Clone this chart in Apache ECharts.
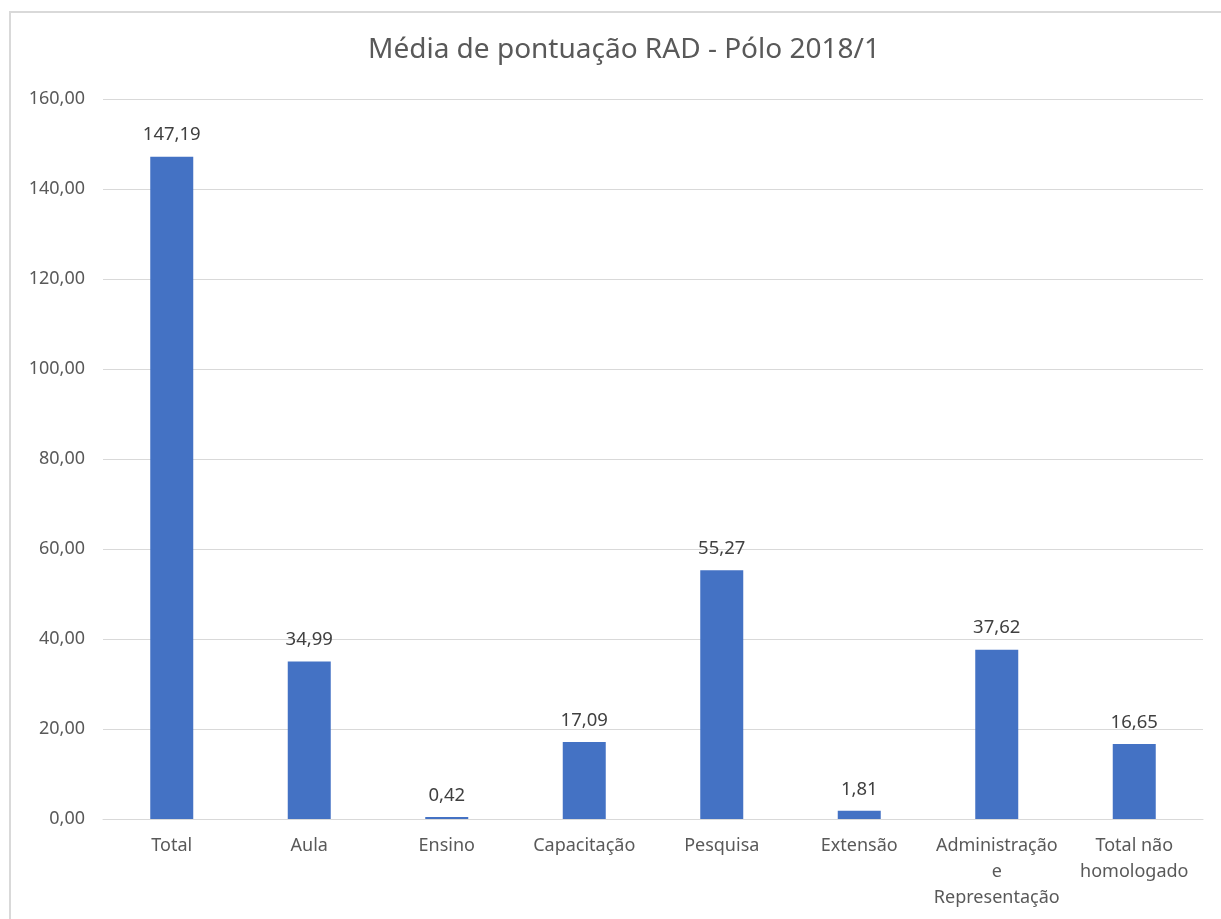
<!DOCTYPE html>
<html>
<head>
<meta charset="utf-8">
<script src="https://cdn.jsdelivr.net/npm/echarts@6/dist/echarts.min.js"></script>
<style>
  html, body { margin: 0; padding: 0; background: #fff; }
  #chart { width: 1221px; height: 919px; }
</style>
</head>
<body>
<div id="chart"></div>
<script>
// dados do gráfico
const categorias = ['Total', 'Aula', 'Ensino', 'Capacitação', 'Pesquisa', 'Extensão', 'Administração\ne\nRepresentação', 'Total não\nhomologado'];
const medias = [147.19, 34.99, 0.42, 17.09, 55.27, 1.81, 37.62, 16.65];
const yMin = 0;
const yMax = 160;
const yPasso = 20;

const fmt = v => v.toFixed(2).replace('.', ',');

const myChart = echarts.init(document.getElementById('chart'));
myChart.setOption({
  animation: false,
  textStyle: { fontFamily: 'Noto Sans' },
  title: {
    text: 'Média de pontuação RAD - Pólo 2018/1',
    left: 619,
    top: 31,
    textAlign: 'center',
    textStyle: { fontSize: 28, fontWeight: 'normal', color: '#595959', fontFamily: 'Noto Sans' }
  },
  graphic: [
    {
      type: 'rect',
      shape: { x: 10, y: 12, width: 1230, height: 940 },
      style: { fill: 'none', stroke: '#d9d9d9', lineWidth: 2 },
      silent: true
    }
  ],
  grid: { left: 103, right: 18, top: 99, bottom: 100, containLabel: false },
  xAxis: {
    type: 'category',
    data: categorias,
    axisTick: { show: false },
    axisLine: { lineStyle: { color: '#d9d9d9', width: 1 } },
    axisLabel: {
      interval: 0,
      margin: 14,
      fontSize: 18,
      lineHeight: 26,
      color: '#595959'
    }
  },
  yAxis: {
    type: 'value',
    min: yMin,
    max: yMax,
    interval: yPasso,
    axisLine: { show: false },
    axisTick: { show: false },
    splitLine: { lineStyle: { color: '#d9d9d9', width: 1 } },
    axisLabel: {
      margin: 18,
      fontSize: 18,
      color: '#595959',
      formatter: v => fmt(v)
    }
  },
  series: [
    {
      name: 'Média',
      type: 'bar',
      data: medias,
      barWidth: 43,
      itemStyle: { color: '#4472C4' },
      label: {
        show: true,
        position: 'top',
        distance: 12,
        fontSize: 18.5,
        color: '#404040',
        formatter: p => fmt(p.value)
      }
    }
  ]
});
</script>
</body>
</html>
